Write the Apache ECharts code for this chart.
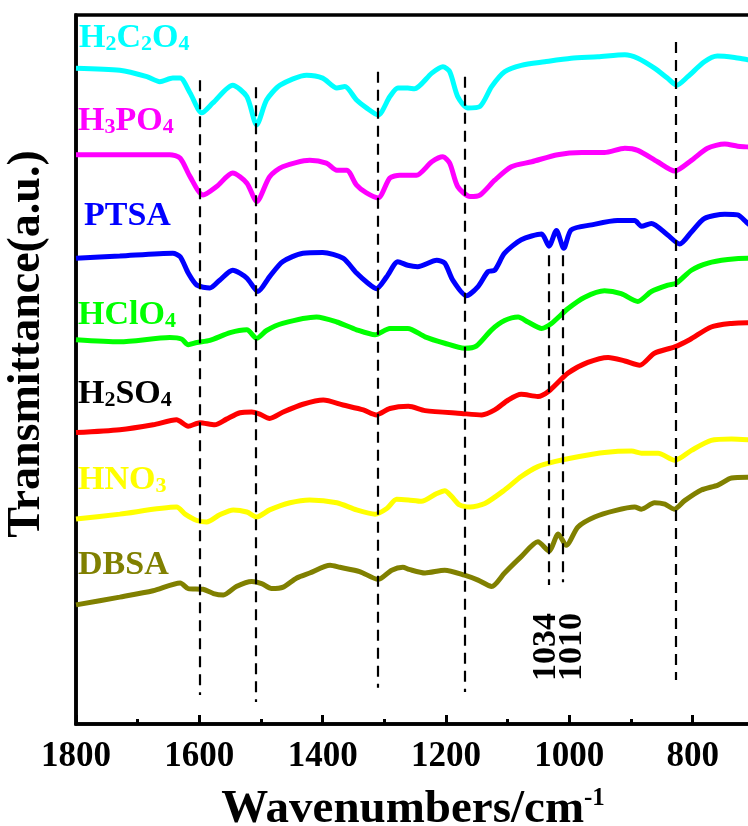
<!DOCTYPE html>
<html>
<head>
<meta charset="utf-8">
<script src="https://cdn.jsdelivr.net/npm/echarts@6/dist/echarts.min.js"></script>
<style>
html,body{margin:0;padding:0;background:#fff;}
#chart{width:748px;height:826px;}
</style>
</head>
<body>
<div id="chart"></div>
<script>
// Wavenumber (cm-1) vs transmittance (a.u., offset traces)
const H2C2O4 = [[1800,92.5],[1729,92.2],[1685,91.3],[1664,90.6],[1643,91.1],[1631,91.1],[1615,89.0],[1596,86.2],[1578,87.6],[1546,90.1],[1523,88.5],[1507,84.5],[1491,88.0],[1469,90.1],[1426,91.5],[1400,91.1],[1377,89.7],[1364,89.9],[1345,88.0],[1329,86.9],[1310,85.9],[1291,88.5],[1278,89.7],[1262,89.7],[1251,89.6],[1223,91.8],[1205,92.7],[1194,92.0],[1181,88.5],[1165,86.9],[1145,87.1],[1126,89.9],[1105,92.0],[1078,92.9],[1040,93.4],[997,93.9],[954,94.1],[910,94.4],[889,93.9],[862,92.5],[841,91.1],[826,90.1],[808,91.3],[781,93.4],[760,94.2],[732,94.0],[711,93.7],[700,93.6]];
const H3PO4 = [[1800,80.3],[1729,80.3],[1648,80.3],[1631,79.8],[1615,77.2],[1594,74.6],[1572,75.8],[1546,77.7],[1523,76.3],[1507,73.7],[1486,77.2],[1465,78.6],[1421,79.5],[1394,79.1],[1377,78.1],[1361,78.1],[1345,76.0],[1329,74.9],[1310,74.2],[1291,77.0],[1275,77.4],[1262,77.4],[1248,77.4],[1223,79.3],[1205,80.0],[1194,79.1],[1181,75.8],[1161,74.4],[1145,74.6],[1121,76.7],[1094,78.6],[1061,79.3],[1019,80.3],[980,80.6],[943,80.6],[910,81.2],[889,80.9],[857,79.3],[829,78.0],[802,79.5],[776,81.2],[748,81.8],[727,81.5],[711,81.4],[700,81.3]];
const PTSA = [[1800,65.7],[1729,66.0],[1643,66.4],[1631,65.9],[1618,63.6],[1604,61.9],[1583,61.5],[1567,62.6],[1546,64.0],[1523,62.9],[1505,61.0],[1486,63.1],[1465,65.2],[1432,66.4],[1400,66.5],[1367,65.7],[1345,63.6],[1327,62.2],[1313,61.4],[1296,63.1],[1278,65.2],[1262,64.7],[1246,64.5],[1215,65.4],[1202,65.0],[1189,62.6],[1167,60.4],[1148,61.7],[1132,63.8],[1121,64.0],[1105,66.4],[1078,68.3],[1045,69.1],[1033,67.4],[1021,69.6],[1009,67.1],[997,69.7],[964,70.4],[922,71.0],[894,71.0],[883,70.2],[867,70.6],[841,69.0],[821,67.7],[802,69.4],[781,71.3],[748,71.9],[727,71.8],[713,70.8],[700,69.8]];
const HClO4 = [[1800,54.2],[1729,53.9],[1648,54.5],[1629,54.3],[1618,53.5],[1604,53.8],[1583,54.1],[1550,55.2],[1523,55.6],[1507,54.4],[1491,55.5],[1465,56.5],[1410,57.4],[1377,56.7],[1345,55.6],[1315,54.9],[1291,55.8],[1262,55.8],[1234,54.6],[1202,53.7],[1170,53.0],[1151,53.3],[1126,55.6],[1105,56.9],[1083,57.4],[1067,56.7],[1045,55.8],[1029,56.5],[1002,58.6],[975,60.2],[943,61.1],[916,60.7],[889,59.6],[867,61.0],[840,61.9],[826,62.2],[802,64.0],[775,65.0],[743,65.5],[711,65.7],[700,65.7]];
const H2SO4 = [[1800,41.1],[1729,41.5],[1675,42.2],[1637,42.9],[1618,42.0],[1599,42.5],[1575,42.2],[1556,43.0],[1534,43.9],[1515,44.0],[1502,43.7],[1486,43.1],[1464,44.0],[1432,45.1],[1399,45.7],[1367,45.0],[1334,44.3],[1313,43.6],[1291,44.5],[1261,44.8],[1234,44.2],[1175,43.8],[1142,43.6],[1121,44.3],[1099,45.7],[1078,46.5],[1051,46.2],[1034,46.9],[1002,49.5],[970,51.0],[937,51.7],[910,51.2],[886,50.6],[862,52.3],[829,53.2],[805,54.2],[770,56.0],[737,56.5],[711,56.6],[700,56.6]];
const HNO3 = [[1800,28.9],[1729,29.6],[1637,30.6],[1623,29.6],[1604,28.7],[1588,28.5],[1567,29.5],[1545,30.2],[1523,29.9],[1507,29.2],[1486,30.2],[1453,31.2],[1421,31.6],[1377,31.2],[1345,30.2],[1315,29.6],[1296,30.4],[1280,31.7],[1261,31.6],[1240,31.4],[1215,32.5],[1202,32.9],[1191,32.1],[1178,30.9],[1161,30.6],[1137,31.1],[1105,33.0],[1078,34.9],[1051,36.3],[1024,37.0],[986,37.7],[943,38.3],[899,38.5],[883,38.2],[856,38.2],[829,37.2],[802,38.6],[770,40.0],[737,40.2],[711,40.1],[700,40.0]];
const DBSA = [[1800,16.8],[1729,17.9],[1675,18.8],[1631,19.9],[1618,19.1],[1594,19.0],[1577,18.4],[1561,18.2],[1540,19.4],[1515,20.1],[1499,19.8],[1483,19.1],[1464,19.3],[1442,20.6],[1421,21.3],[1388,22.4],[1372,22.1],[1340,21.5],[1310,20.4],[1288,21.7],[1270,22.1],[1260,21.8],[1234,21.3],[1202,21.7],[1170,21.0],[1148,20.3],[1126,19.4],[1105,21.3],[1078,23.6],[1051,25.7],[1033,24.4],[1018,26.8],[1005,25.2],[986,27.8],[959,29.2],[926,30.1],[894,30.6],[883,30.3],[862,31.2],[845,31.0],[830,30.3],[813,31.5],[786,33.0],[759,33.7],[737,34.7],[711,34.8],[700,34.8]];

const seriesNames = ['H2C2O4','H3PO4','PTSA','HClO4','H2SO4','HNO3','DBSA'];
const seriesData = [H2C2O4, H3PO4, PTSA, HClO4, H2SO4, HNO3, DBSA];
const lineColors = ['#00FFFF','#FF00FF','#0000FF','#00FF00','#FF0000','#FFFF00','#808000'];
const labelColors = ['#00FFFF','#FF00FF','#0000FF','#00FF00','#000000','#FFFF00','#808000'];
// label text pieces: [main, subscript] pairs
const labelParts = [
  [['H','2'],['C','2'],['O','4']],
  [['H','3'],['P',''],['O','4']],
  [['PTSA','']],
  [['HClO','4']],
  [['H','2'],['SO','4']],
  [['HNO','3']],
  [['DBSA','']]
];
// dashed marker lines: wavenumber, upper and lower transmittance
const markWaves = [1600, 1508, 1310, 1170, 1034, 1010, 828];
const markTop = [90.8, 89.8, 92.0, 91.3, 66.1, 66.1, 96.2];
const markBottom = [4.1, 3.1, 5.1, 4.5, 19.6, 20.0, 6.2];
const peakLabels = ['1034', '1010'];
const xTickLabels = [1800, 1600, 1400, 1200, 1000, 800];

const FONT = "'Liberation Serif','Times New Roman',serif";
const labelPos = [[79,21],[78,104],[84,199],[78,298],[78,377],[78,463],[78,548]];

const chart = echarts.init(document.getElementById('chart'), null, {renderer:'canvas'});

const series = seriesNames.map((n, i) => ({
  name: n, type: 'line', data: seriesData[i], showSymbol: false, symbol: 'none',
  smooth: 0.25, lineStyle: {color: lineColors[i], width: 5}, itemStyle: {color: lineColors[i]},
  z: 2
}));
series.push({
  name: 'marks', type: 'line', data: [], z: 5,
  markLine: {
    silent: true, symbol: ['none','none'], animation: false,
    label: {show: false},
    lineStyle: {color: '#000', width: 2.2, type: [11, 7]},
    emphasis: {disabled: true},
    data: markWaves.map((w, i) => [{coord: [w, markTop[i]]}, {coord: [w, markBottom[i]]}])
  }
});

const graphics = [];
labelParts.forEach((parts, i) => {
  let txt = '';
  parts.forEach(p => { txt += '{m|' + p[0] + '}'; if (p[1]) txt += '{s|' + p[1] + '}'; });
  graphics.push({
    type: 'text', x: labelPos[i][0], y: labelPos[i][1], z: 20,
    style: {
      text: txt,
      rich: {
        m: {fontFamily: FONT, fontWeight: 'bold', fontSize: 34, fill: labelColors[i], verticalAlign: 'top', lineHeight: 34},
        s: {fontFamily: FONT, fontWeight: 'bold', fontSize: 22, fill: labelColors[i], verticalAlign: 'bottom', lineHeight: 22, padding: [23,0,0,0]}
      }
    }
  });
});
// y-axis title
graphics.push({
  type: 'text', x: 27, y: 344, rotation: Math.PI / 2, z: 20,
  style: {text: 'Transmittance(a.u.)', font: 'bold 46px ' + FONT, fill: '#000', textAlign: 'center', textVerticalAlign: 'middle'}
});
// peak labels
const peakX = [546, 572];
peakLabels.forEach((t, i) => {
  graphics.push({
    type: 'text', x: peakX[i], y: 647, rotation: Math.PI / 2, z: 20,
    style: {text: t, font: 'bold 34px ' + FONT, fill: '#000', textAlign: 'center', textVerticalAlign: 'middle'}
  });
});

chart.setOption({
  animation: false,
  backgroundColor: '#fff',
  grid: {left: 76, top: 15, height: 709, width: 740, outerBoundsMode: 'none', containLabel: false, show: true, borderColor: '#000', borderWidth: 3.5, backgroundColor: 'transparent'},
  xAxis: {
    type: 'value', min: 600, max: 1800, interval: 200, inverse: true,
    name: '{a|Wavenumbers/cm}{b|-1}', nameLocation: 'middle', nameGap: 62,
    nameTextStyle: {
      padding: [0, 66, 0, 0],
      rich: {
        a: {fontFamily: FONT, fontWeight: 'bold', fontSize: 47, color: '#000', verticalAlign: 'bottom', lineHeight: 47},
        b: {fontFamily: FONT, fontWeight: 'bold', fontSize: 25, color: '#000', verticalAlign: 'top', lineHeight: 25}
      }
    },
    axisLine: {show: true, onZero: false, lineStyle: {color: '#000', width: 3.5}},
    axisTick: {show: true, inside: true, length: 9, lineStyle: {color: '#000', width: 3}},
    minorTick: {show: true, splitNumber: 2, length: 5, lineStyle: {color: '#000', width: 3}},
    splitLine: {show: false}, minorSplitLine: {show: false},
    axisLabel: {
      show: true, margin: 15, color: '#000', fontFamily: FONT, fontWeight: 'bold', fontSize: 35,
      formatter: v => (xTickLabels.indexOf(v) >= 0 ? String(v) : '')
    }
  },
  yAxis: {
    type: 'value', min: 0, max: 100,
    axisLine: {show: true, lineStyle: {color: '#000', width: 3.5}},
    axisTick: {show: false}, axisLabel: {show: false}, splitLine: {show: false}
  },
  graphic: graphics,
  series: series
});
</script>
</body>
</html>
